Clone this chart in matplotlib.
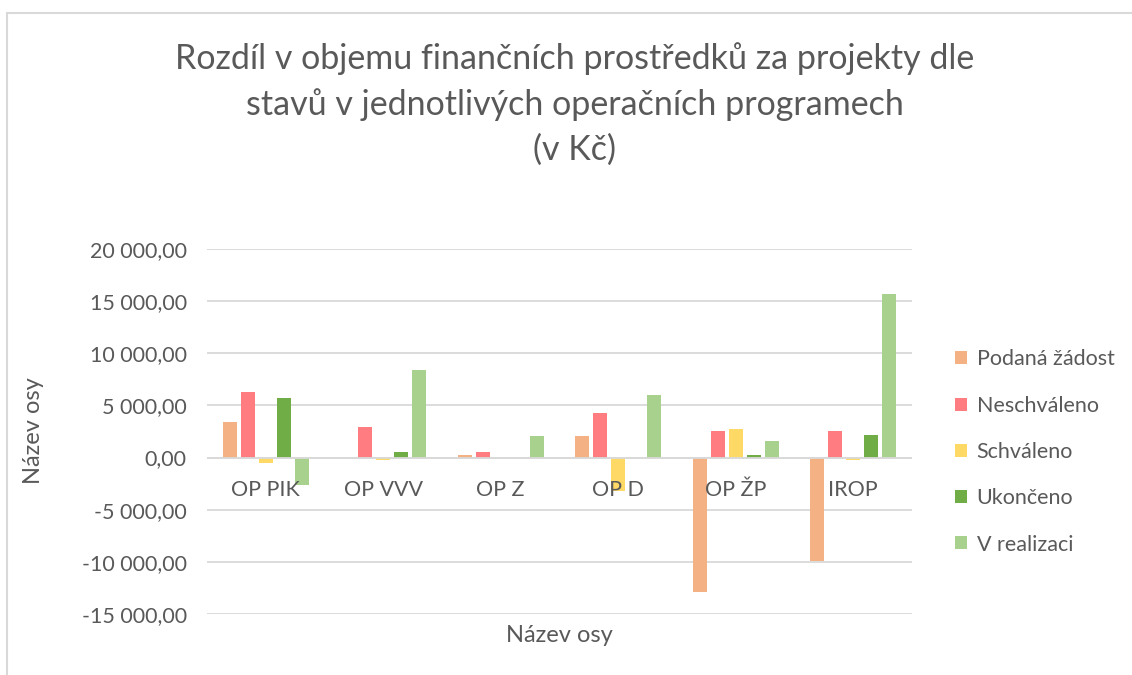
#!/usr/bin/env python3
"""
Difference in project funding by project state for each operational
programme (values in CZK). Grouped bar chart, Excel look.
"""

import matplotlib.pyplot as plt
from matplotlib.patches import Rectangle
from matplotlib.ticker import FuncFormatter

PROGRAMS = ["OP PIK", "OP VVV", "OP Z", "OP D", "OP ŽP", "IROP"]
STATES   = ["Podaná žádost", "Neschváleno", "Schváleno", "Ukončeno",
            "V realizaci"]
COLORS   = ["#F4B183", "#FF7C80", "#FFD966", "#70AD47", "#A9D18E"]

# one list per state, values in the order of PROGRAMS
PODANA      = [3380, 0, 220, 2040, -12870, -9950]
NESCHVALENO = [6300, 2900, 570, 4240, 2520, 2520]
SCHVALENO   = [-480, -250, 0, -3180, 2770, -250]
UKONCENO    = [5730, 570, 0, 0, 220, 2170]
V_REALIZACI = [-2610, 8410, 2040, 5960, 1560, 15640]

Y_TICKS = [-15000, -10000, -5000, 0, 5000, 10000, 15000, 20000]

TEXT = "#595959"
GRID = "#D9D9D9"
FS   = 15.5

plt.rcParams["font.family"] = ["Lato", "DejaVu Sans"]


def cz_number(v, _pos=None):
    # 20000 -> "20 000,00"
    s = f"{abs(v):,.2f}".replace(",", " ").replace(".", ",")
    return ("-" if v < 0 else "") + s


def main():
    W, H = 1132, 675
    fig = plt.figure(figsize=(W / 100, H / 100), dpi=100)

    # light frame of the chart object (cropped on right/bottom)
    fig.patches.append(Rectangle((7 / W, -0.1), 1.2, 1 - 13 / H + 0.1,
                                 transform=fig.transFigure, fill=False,
                                 edgecolor=GRID, linewidth=1.5))

    left, right, top, bottom = 207, 912, 249, 614
    ax = fig.add_axes([left / W, 1 - bottom / H,
                       (right - left) / W, (bottom - top) / H])

    series = [PODANA, NESCHVALENO, SCHVALENO, UKONCENO, V_REALIZACI]
    step, width = 0.153, 0.12
    xs = list(range(len(PROGRAMS)))
    for i, (vals, name, col) in enumerate(zip(series, STATES, COLORS)):
        off = (i - 2) * step
        ax.bar([x + off for x in xs], vals, width=width, color=col,
               label=name, zorder=3)

    ax.set_xlim(-0.5, len(PROGRAMS) - 0.5)
    ax.set_ylim(-15000, 20000)
    ax.set_yticks(Y_TICKS)
    ax.yaxis.set_major_formatter(FuncFormatter(cz_number))
    ax.tick_params(axis="y", length=0, pad=14.5, labelsize=FS,
                   labelcolor=TEXT)
    ax.set_xticks([])
    ax.grid(True, axis="y", color=GRID, linewidth=1.3, zorder=0)
    for sp in ax.spines.values():
        sp.set_visible(False)
    ax.axhline(0, color=GRID, linewidth=1.3, zorder=4)

    # category labels sit just under the zero line, like Excel does
    for x, name in zip(xs, PROGRAMS):
        ax.annotate(name, (x, 0), xytext=(0, -27.8),
                    textcoords="offset points", ha="center", va="baseline",
                    fontsize=FS, color=TEXT, zorder=5)

    # axis titles
    fig.text(33 / W, 1 - 431 / H, "Název osy", rotation=90,
             ha="center", va="center", fontsize=17, color=TEXT)
    fig.text((left + right) / 2 / W, 1 - 635 / H, "Název osy",
             ha="center", va="center", fontsize=17, color=TEXT)

    title = ("Rozdíl v objemu finančních prostředků za projekty dle\n"
             "stavů v jednotlivých operačních programech\n(v Kč)")
    fig.text(575 / W, 1 - 104 / H, title, ha="center", va="center",
             fontsize=24.5, color=TEXT, linespacing=1.47)

    fig.legend(loc="center left", bbox_to_anchor=(955 / W, 1 - 452 / H),
               frameon=False, fontsize=FS, labelcolor=TEXT,
               handlelength=0.55, handleheight=0.55, handletextpad=0.45,
               labelspacing=1.22, borderpad=0, borderaxespad=0)

    fig.savefig("out.png", dpi=100)


if __name__ == "__main__":
    main()
